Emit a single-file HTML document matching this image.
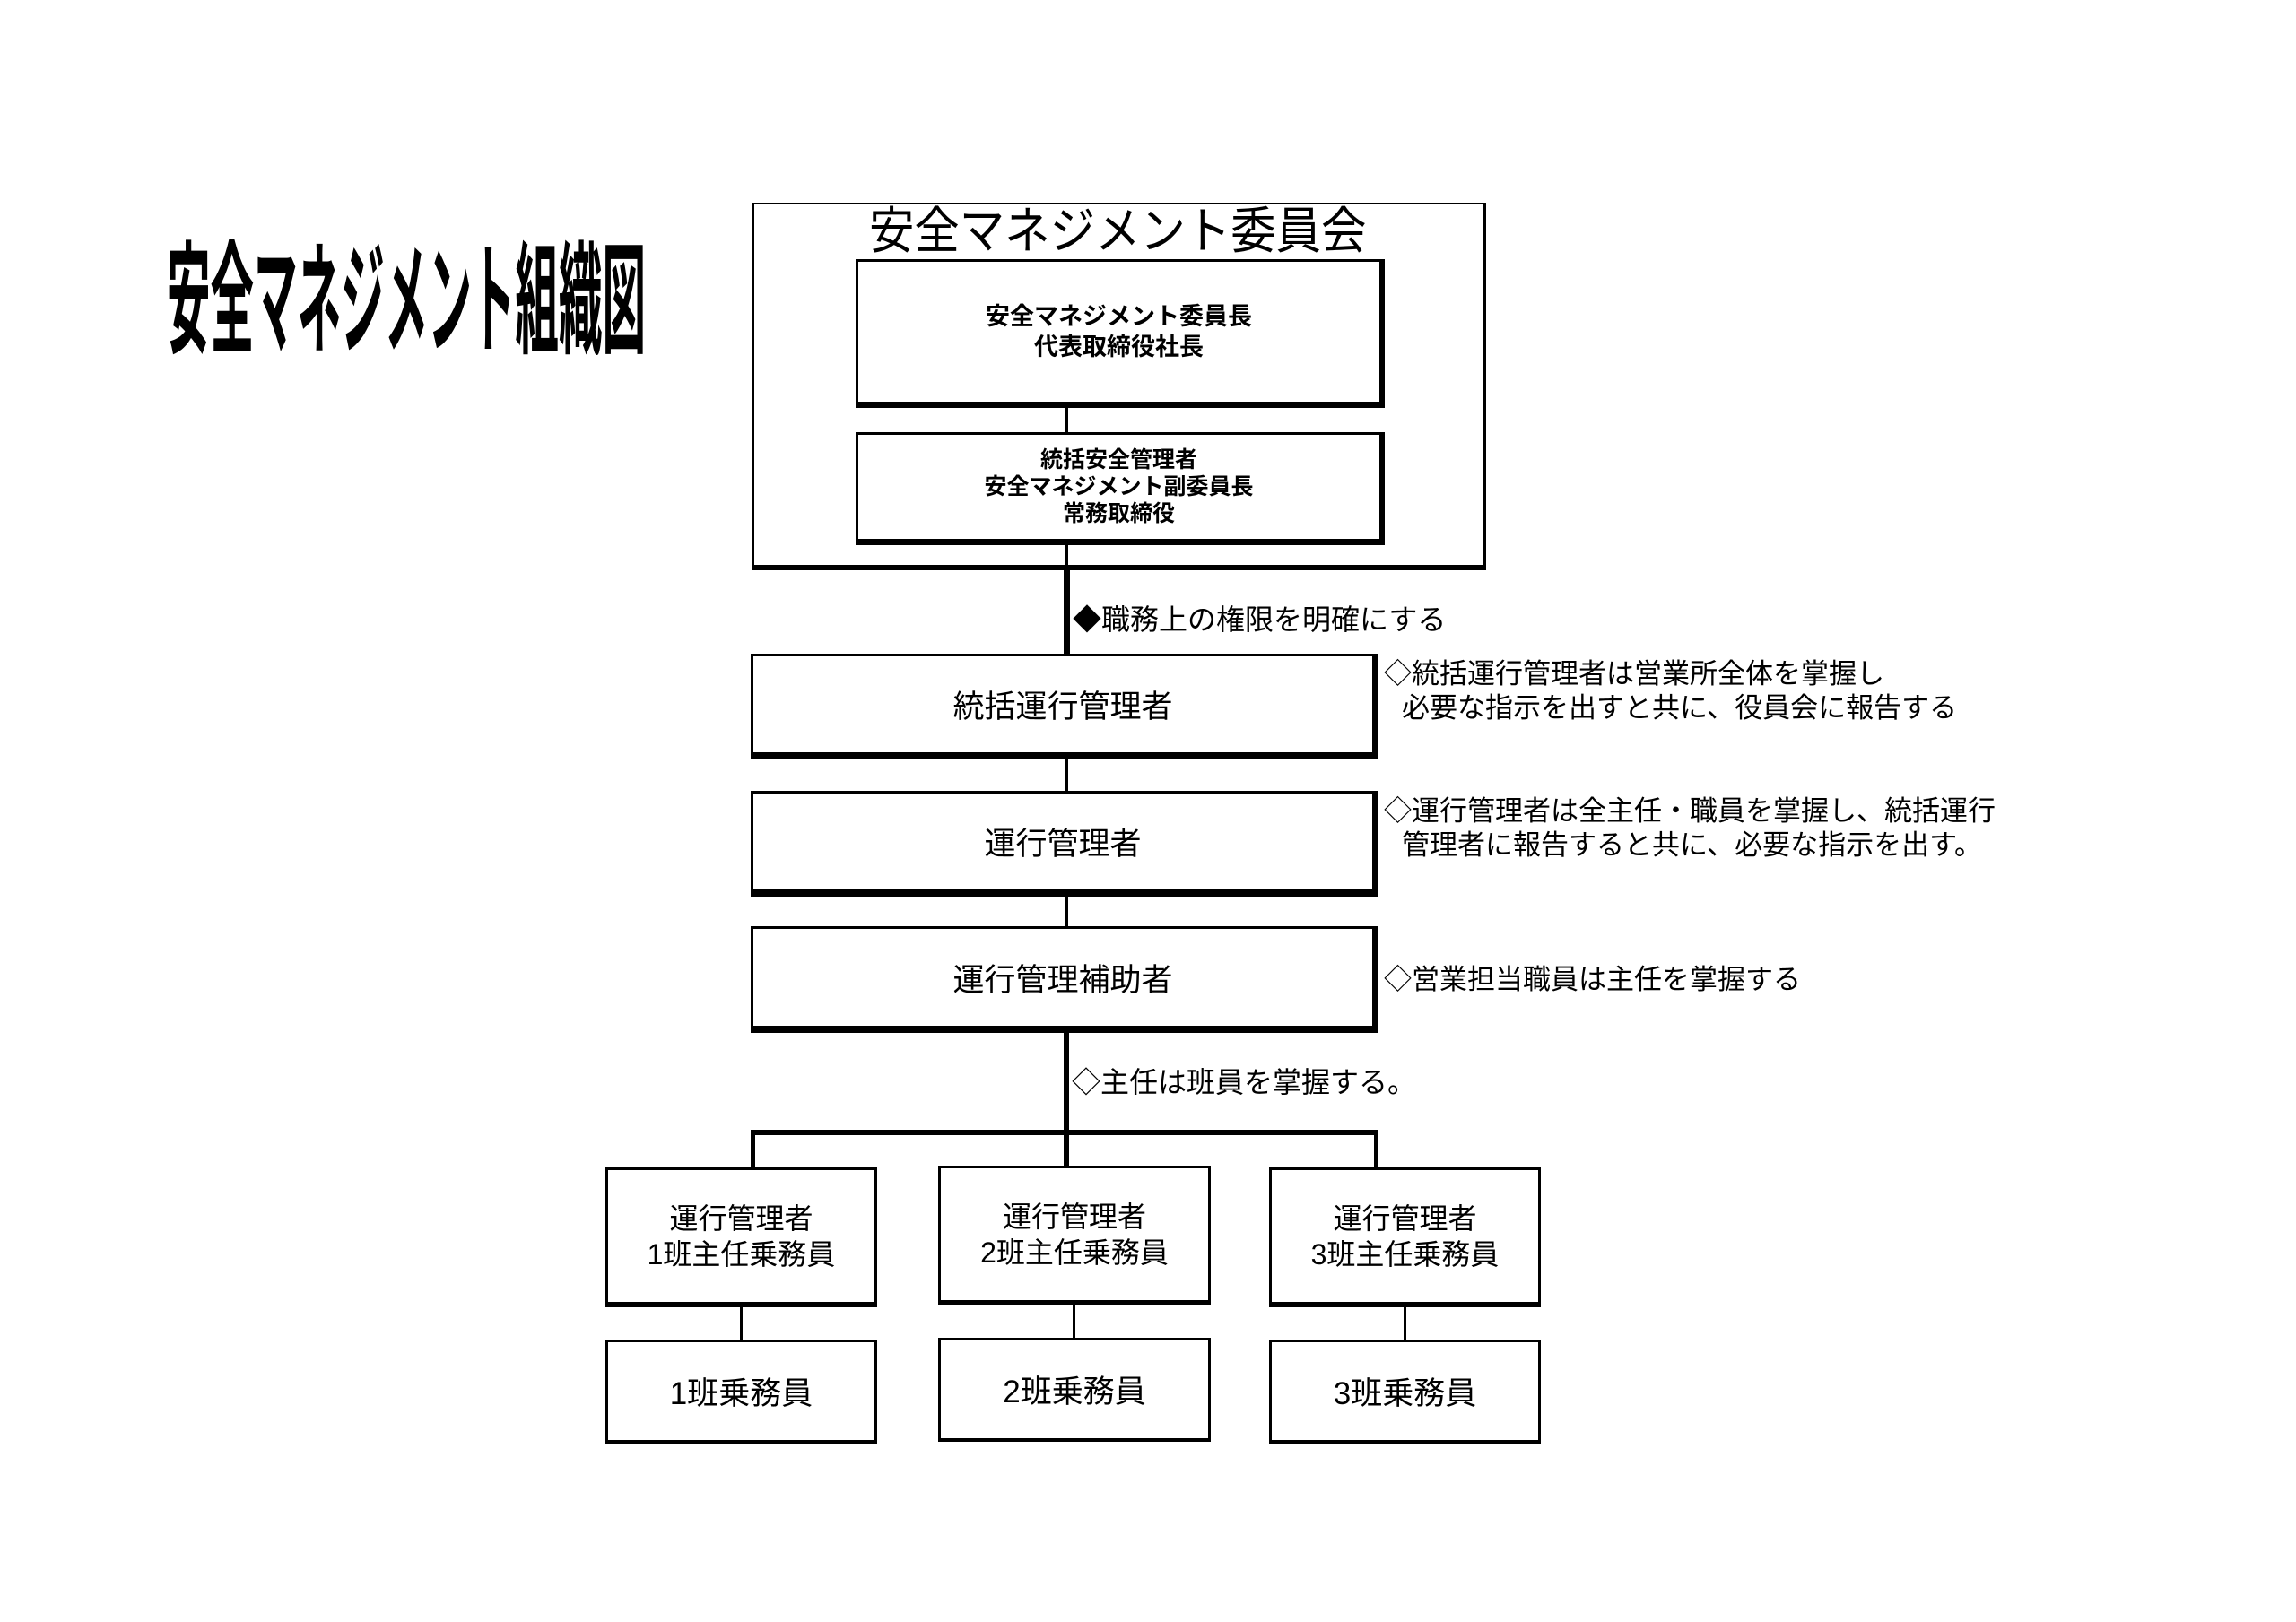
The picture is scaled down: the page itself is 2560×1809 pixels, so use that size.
<!DOCTYPE html>
<html><head><meta charset="utf-8"><style>
body{margin:0;width:2560px;height:1809px;background:#fff;position:relative;overflow:hidden;font-family:"Liberation Sans","Noto Sans CJK JP",sans-serif;color:#000}
.a{position:absolute;box-sizing:border-box}
.bx{position:absolute;box-sizing:border-box;border:3px solid #000;background:#fff;display:flex;align-items:center;justify-content:center;text-align:center}
.ln{position:absolute;background:#000}
.t{position:absolute;white-space:nowrap;line-height:1}
</style></head><body>
<div class="t" style="left:186px;top:268px;font-size:136px;font-weight:bold;transform:scaleX(0.357);transform-origin:0 0;letter-spacing:0">安全マネジメント組織図</div>

<div class="a" style="left:839px;top:226px;width:818px;height:410px;border:2px solid #000;border-right:4px solid #000;border-bottom:6px solid #000"></div>
<div class="t" style="left:969px;top:230px;font-size:56px;transform:scaleX(0.9);transform-origin:0 0">安全マネジメント委員会</div>

<div class="bx" style="left:954px;top:289px;width:590px;height:166px;border-right-width:6px;border-bottom-width:7px;font-size:27px;font-weight:bold;line-height:34px">安全マネジメント委員長<br>代表取締役社長</div>
<div class="ln" style="left:1188px;top:455px;width:3px;height:28px"></div>
<div class="bx" style="left:954px;top:482px;width:590px;height:126px;border-right-width:6px;border-bottom-width:7px;font-size:25px;font-weight:bold;line-height:30px">統括安全管理者<br>安全マネジメント副委員長<br>常務取締役</div>
<div class="ln" style="left:1188px;top:608px;width:3px;height:28px"></div>
<div class="ln" style="left:1186px;top:636px;width:7px;height:94px"></div>
<div class="t" style="left:1196px;top:675px;font-size:32px">◆職務上の権限を明確にする</div>

<div class="bx" style="left:837px;top:729px;width:700px;height:118px;border-right-width:7px;border-bottom-width:8px;font-size:35px">統括運行管理者</div>
<div class="ln" style="left:1187px;top:847px;width:4px;height:36px"></div>
<div class="bx" style="left:837px;top:882px;width:700px;height:118px;border-right-width:7px;border-bottom-width:8px;font-size:35px">運行管理者</div>
<div class="ln" style="left:1187px;top:1000px;width:4px;height:34px"></div>
<div class="bx" style="left:837px;top:1033px;width:700px;height:119px;border-right-width:7px;border-bottom-width:8px;font-size:35px">運行管理補助者</div>

<div class="t" style="left:1543px;top:736px;font-size:31px">◇統括運行管理者は営業所全体を掌握し</div>
<div class="t" style="left:1563px;top:774px;font-size:31px">必要な指示を出すと共に、役員会に報告する</div>
<div class="t" style="left:1543px;top:889px;font-size:31px">◇運行管理者は全主任・職員を掌握し、統括運行</div>
<div class="t" style="left:1563px;top:927px;font-size:31px">管理者に報告すると共に、必要な指示を出す。</div>
<div class="t" style="left:1543px;top:1077px;font-size:31px">◇営業担当職員は主任を掌握する</div>

<div class="ln" style="left:1186px;top:1152px;width:6px;height:150px"></div>
<div class="t" style="left:1195px;top:1191px;font-size:32px">◇主任は班員を掌握する。</div>
<div class="ln" style="left:837px;top:1260px;width:700px;height:6px"></div>
<div class="ln" style="left:837px;top:1260px;width:5px;height:43px"></div>
<div class="ln" style="left:1532px;top:1260px;width:5px;height:43px"></div>

<div class="bx" style="left:675px;top:1302px;width:303px;height:156px;border-bottom-width:6px;font-size:32px;line-height:40px">運行管理者<br>1班主任乗務員</div>
<div class="bx" style="left:1046px;top:1300px;width:304px;height:156px;border-bottom-width:6px;font-size:32px;line-height:40px">運行管理者<br>2班主任乗務員</div>
<div class="bx" style="left:1415px;top:1302px;width:303px;height:156px;border-bottom-width:6px;font-size:32px;line-height:40px">運行管理者<br>3班主任乗務員</div>

<div class="ln" style="left:825px;top:1458px;width:3px;height:37px"></div>
<div class="ln" style="left:1196px;top:1456px;width:3px;height:37px"></div>
<div class="ln" style="left:1565px;top:1458px;width:3px;height:37px"></div>

<div class="bx" style="left:675px;top:1494px;width:303px;height:116px;border-bottom-width:4px;font-size:35px">1班乗務員</div>
<div class="bx" style="left:1046px;top:1492px;width:304px;height:116px;border-bottom-width:4px;font-size:35px">2班乗務員</div>
<div class="bx" style="left:1415px;top:1494px;width:303px;height:116px;border-bottom-width:4px;font-size:35px">3班乗務員</div>
</body></html>
